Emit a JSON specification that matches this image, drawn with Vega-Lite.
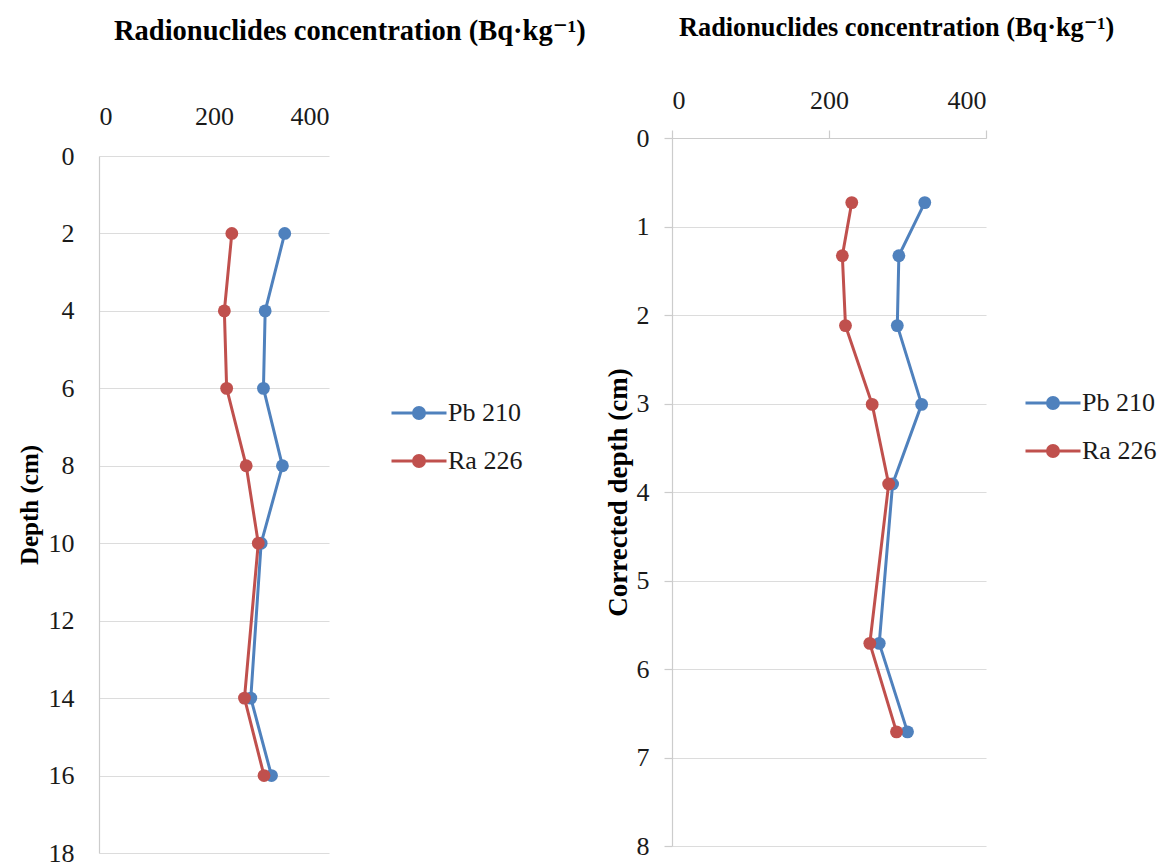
{
  "$schema": "https://vega.github.io/schema/vega-lite/v6.json",
  "background": "white",
  "padding": {"left": 17, "top": 14, "right": 0, "bottom": 0},
  "spacing": 18,
  "config": {
    "font": "Liberation Serif, DejaVu Serif, serif",
    "view": {"stroke": null},
    "axis": {"labelFont": "Liberation Serif, DejaVu Serif, serif", "labelColor": "#1a1a1a", "labelFontSize": 26, "labelFontWeight": "normal", "titleFont": "Liberation Serif, DejaVu Serif, serif", "titleColor": "#000000", "titleFontWeight": "bold", "gridColor": "#dcdcdc", "gridWidth": 1.2, "domainColor": "#cccccc", "domainWidth": 1.2, "tickColor": "#cccccc", "tickWidth": 1.2},
    "legend": {"labelFont": "Liberation Serif, DejaVu Serif, serif", "labelFontSize": 26, "labelColor": "#1a1a1a", "labelFontWeight": "normal"}
  },
  "datasets": {
    "left": [
      {"series": "Pb 210", "depth": 2, "conc": 323},
      {"series": "Pb 210", "depth": 4, "conc": 289},
      {"series": "Pb 210", "depth": 6, "conc": 286},
      {"series": "Pb 210", "depth": 8, "conc": 319},
      {"series": "Pb 210", "depth": 10, "conc": 282},
      {"series": "Pb 210", "depth": 14, "conc": 264},
      {"series": "Pb 210", "depth": 16, "conc": 300},
      {"series": "Ra 226", "depth": 2, "conc": 231},
      {"series": "Ra 226", "depth": 4, "conc": 218},
      {"series": "Ra 226", "depth": 6, "conc": 222},
      {"series": "Ra 226", "depth": 8, "conc": 256},
      {"series": "Ra 226", "depth": 10, "conc": 277},
      {"series": "Ra 226", "depth": 14, "conc": 253},
      {"series": "Ra 226", "depth": 16, "conc": 287}
    ],
    "right": [
      {"series": "Pb 210", "depth": 0.73, "conc": 322},
      {"series": "Pb 210", "depth": 1.33, "conc": 289},
      {"series": "Pb 210", "depth": 2.12, "conc": 287},
      {"series": "Pb 210", "depth": 3.01, "conc": 318},
      {"series": "Pb 210", "depth": 3.91, "conc": 281},
      {"series": "Pb 210", "depth": 5.71, "conc": 264},
      {"series": "Pb 210", "depth": 6.71, "conc": 300},
      {"series": "Ra 226", "depth": 0.73, "conc": 229},
      {"series": "Ra 226", "depth": 1.33, "conc": 217},
      {"series": "Ra 226", "depth": 2.12, "conc": 221},
      {"series": "Ra 226", "depth": 3.01, "conc": 255},
      {"series": "Ra 226", "depth": 3.91, "conc": 276},
      {"series": "Ra 226", "depth": 5.71, "conc": 252},
      {"series": "Ra 226", "depth": 6.71, "conc": 286}
    ]
  },
  "resolve": {"scale": {"color": "independent"}, "legend": {"color": "independent"}},
  "hconcat": [
    {
      "width": 230,
      "height": 715,
      "title": {"text": "Radionuclides concentration (Bq·kg⁻¹)", "anchor": "start", "frame": "group", "fontSize": 28.5, "fontWeight": "bold", "font": "Liberation Serif, DejaVu Serif, serif", "color": "#000000", "offset": 58, "dx": 15},
      "data": {"name": "left"},
      "encoding": {
        "x": {"field": "conc", "type": "quantitative", "scale": {"domain": [0, 400]}, "axis": {"orient": "top", "values": [0, 200, 400], "title": null, "grid": false, "domain": false, "ticks": false, "labelPadding": 9, "labelFont": "Liberation Serif, DejaVu Serif, serif"}},
        "y": {"field": "depth", "type": "quantitative", "scale": {"domain": [0, 18], "range": [18, 715], "nice": false}, "axis": {"values": [0, 2, 4, 6, 8, 10, 12, 14, 16, 18], "title": "Depth (cm)", "titleFontSize": 25, "titlePadding": 6, "grid": true, "ticks": false, "domain": true, "labelPadding": 25, "labelFont": "Liberation Serif, DejaVu Serif, serif"}},
        "color": {"field": "series", "type": "nominal", "scale": {"domain": ["Pb 210", "Ra 226"], "range": ["#4f81bd", "#c0504d"]}, "legend": {"orient": "none", "legendX": 291, "legendY": 246, "title": null, "labelFont": "Liberation Serif, DejaVu Serif, serif", "symbolType": "M-1,0H1M-0.2,0a0.2,0.2 0 1,0 0.4,0a0.2,0.2 0 1,0 -0.4,0M-0.13,0a0.13,0.13 0 1,0 0.26,0a0.13,0.13 0 1,0 -0.26,0M-0.06,0a0.06,0.06 0 1,0 0.12,0a0.06,0.06 0 1,0 -0.12,0", "symbolSize": 3025, "symbolStrokeWidth": 3, "labelOffset": 0, "rowPadding": 6}}
      },
      "layer": [
        {"mark": {"type": "line", "strokeWidth": 3}, "encoding": {"order": {"field": "depth", "type": "quantitative"}}},
        {"mark": {"type": "point", "filled": true, "size": 165, "opacity": 1}}
      ]
    },
    {
      "width": 314,
      "height": 708,
      "title": {"text": "Radionuclides concentration (Bq·kg⁻¹)", "anchor": "start", "frame": "group", "fontSize": 26.3, "fontWeight": "bold", "font": "Liberation Serif, DejaVu Serif, serif", "color": "#000000", "offset": 46, "dx": 7},
      "data": {"name": "right"},
      "encoding": {
        "x": {"field": "conc", "type": "quantitative", "scale": {"domain": [0, 400]}, "axis": {"orient": "top", "values": [0, 200, 400], "title": null, "grid": false, "domain": true, "ticks": true, "tickSize": 8, "labelPadding": 17, "labelFont": "Liberation Serif, DejaVu Serif, serif"}},
        "y": {"field": "depth", "type": "quantitative", "scale": {"domain": [0, 8], "reverse": true, "nice": false}, "axis": {"values": [0, 1, 2, 3, 4, 5, 6, 7, 8], "title": "Corrected depth (cm)", "titleFontSize": 27, "titlePadding": 4, "grid": true, "ticks": true, "tickSize": 8, "domain": true, "labelPadding": 15, "labelFont": "Liberation Serif, DejaVu Serif, serif"}},
        "color": {"field": "series", "type": "nominal", "scale": {"domain": ["Pb 210", "Ra 226"], "range": ["#4f81bd", "#c0504d"]}, "legend": {"orient": "none", "legendX": 352, "legendY": 236, "title": null, "labelFont": "Liberation Serif, DejaVu Serif, serif", "symbolType": "M-1,0H1M-0.2,0a0.2,0.2 0 1,0 0.4,0a0.2,0.2 0 1,0 -0.4,0M-0.13,0a0.13,0.13 0 1,0 0.26,0a0.13,0.13 0 1,0 -0.26,0M-0.06,0a0.06,0.06 0 1,0 0.12,0a0.06,0.06 0 1,0 -0.12,0", "symbolSize": 3025, "symbolStrokeWidth": 3, "labelOffset": 0, "rowPadding": 6}}
      },
      "layer": [
        {"mark": {"type": "line", "strokeWidth": 3}, "encoding": {"order": {"field": "depth", "type": "quantitative"}}},
        {"mark": {"type": "point", "filled": true, "size": 165, "opacity": 1}}
      ]
    }
  ]
}
